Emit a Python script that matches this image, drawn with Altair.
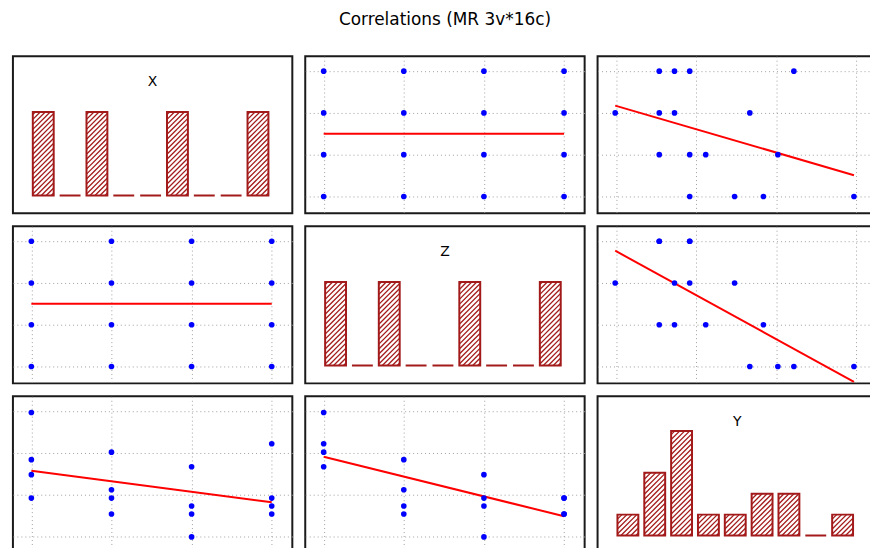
import altair as alt
import numpy as np
import pandas as pd

# Variables of the correlation matrix (16 cases)
var_names = ["X", "Z", "Y"]
x_vals = [1, 1, 1, 1, 2, 2, 2, 2, 3, 3, 3, 3, 4, 4, 4, 4]
z_vals = [1, 2, 3, 4, 1, 2, 3, 4, 1, 2, 3, 4, 1, 2, 3, 4]
y_vals = [3.97, 2.84, 2.48, 1.92, 3.02, 2.12, 1.92, 1.54,
          2.67, 1.73, 0.99, 1.54, 3.22, 1.54, 1.73, 1.92]

# Histogram counts (9 bins per variable)
hist_counts = {
    "X": [4, 0, 4, 0, 0, 4, 0, 0, 4],
    "Z": [4, 0, 4, 0, 0, 4, 0, 0, 4],
    "Y": [1, 3, 5, 1, 1, 2, 2, 0, 1],
}
grid_ticks = [1, 2, 3, 4]

W, H = 281, 158
GAP = 11
BAR_RED = "#a31a1a"

cases = pd.DataFrame({"X": x_vals, "Z": z_vals, "Y": y_vals})

sc_x = alt.Scale(domain=[0.77, 4.257], nice=False, zero=False)
sc_y = alt.Scale(domain=[0.595, 4.357], nice=False, zero=False)

h_xdom = [-0.63, 9.78]
h_ydom = [-0.857, 6.667]
h_sx = alt.Scale(domain=h_xdom, nice=False, zero=False)
h_sy = alt.Scale(domain=h_ydom, nice=False, zero=False)


def grid_axis():
    return alt.Axis(values=grid_ticks, grid=True, gridDash=[1, 3],
                    gridColor="#a0a0a0", gridWidth=1, labels=False,
                    ticks=False, domain=False, title=None)


def scatter(xv, yv):
    base = alt.Chart(cases)
    enc = dict(x=alt.X(f"{xv}:Q", scale=sc_x, axis=grid_axis()),
               y=alt.Y(f"{yv}:Q", scale=sc_y, axis=grid_axis()))
    line = base.transform_regression(xv, yv).mark_line(
        color="#ff0000", strokeWidth=2, clip=True).encode(**enc)
    pts = base.mark_point(filled=True, shape="circle", size=32,
                          color="#0000ff", opacity=1).encode(**enc)
    return alt.layer(line, pts).properties(width=W, height=H)


def histogram(name):
    counts = hist_counts[name]
    lo, hi = 0.111, 0.889
    bars = pd.DataFrame({
        "x0": [i + lo for i in range(len(counts))],
        "x1": [i + hi for i in range(len(counts))],
        "n": counts,
    })
    # diagonal hatch lines inside each bar, 45 degrees on screen
    ppx = W / (h_xdom[1] - h_xdom[0])
    ppy = H / (h_ydom[1] - h_ydom[0])
    step = 5.0
    rows = []
    for i, c in enumerate(counts):
        bw = (hi - lo) * ppx
        bh = c * ppy
        if bh <= 0:
            continue
        b = -bw + step / 2
        while b < bh:
            xs = max(0.0, -b)
            xe = min(bw, bh - b)
            if xe > xs:
                rows.append({
                    "hx0": i + lo + xs / ppx, "hy0": (xs + b) / ppy,
                    "hx1": i + lo + xe / ppx, "hy1": (xe + b) / ppy,
                })
            b += step
    hatch = pd.DataFrame(rows)

    rect = alt.Chart(bars).mark_bar(
        fill="white", stroke=BAR_RED, strokeWidth=2).encode(
        x=alt.X("x0:Q", scale=h_sx, axis=None),
        x2="x1:Q",
        y=alt.Y("n:Q", scale=h_sy, axis=None),
        y2=alt.datum(0),
    )
    lines = alt.Chart(hatch).mark_rule(color=BAR_RED, strokeWidth=1.3).encode(
        x=alt.X("hx0:Q", scale=h_sx, axis=None),
        x2="hx1:Q",
        y=alt.Y("hy0:Q", scale=h_sy, axis=None),
        y2="hy1:Q",
    )
    label = alt.Chart(pd.DataFrame({"name": [name]})).mark_text(
        font="DejaVu Sans", fontSize=14, color="black",
        baseline="middle", align="center").encode(
        x=alt.value(W / 2), y=alt.value(26), text="name:N")
    return alt.layer(rect, lines, label).properties(width=W, height=H)


rows = []
for r in range(3):
    panels = []
    for c in range(3):
        if r == c:
            panels.append(histogram(var_names[r]))
        else:
            panels.append(scatter(var_names[c], var_names[r]))
    rows.append(alt.hconcat(*panels, spacing=GAP).resolve_scale(
        x="independent", y="independent"))

chart = alt.vconcat(*rows, spacing=GAP).resolve_scale(
    x="independent", y="independent"
).properties(
    title=alt.TitleParams("Correlations (MR 3v*16c)", anchor="middle",
                          font="DejaVu Sans", fontSize=17,
                          fontWeight="normal", color="black", offset=26),
    padding={"left": 12, "top": 10, "right": -8, "bottom": -6},
    background="white",
).configure_view(stroke="#1a1a1a", strokeWidth=2)

chart.save("out.html", embed_options={"renderer": "svg", "actions": False})
